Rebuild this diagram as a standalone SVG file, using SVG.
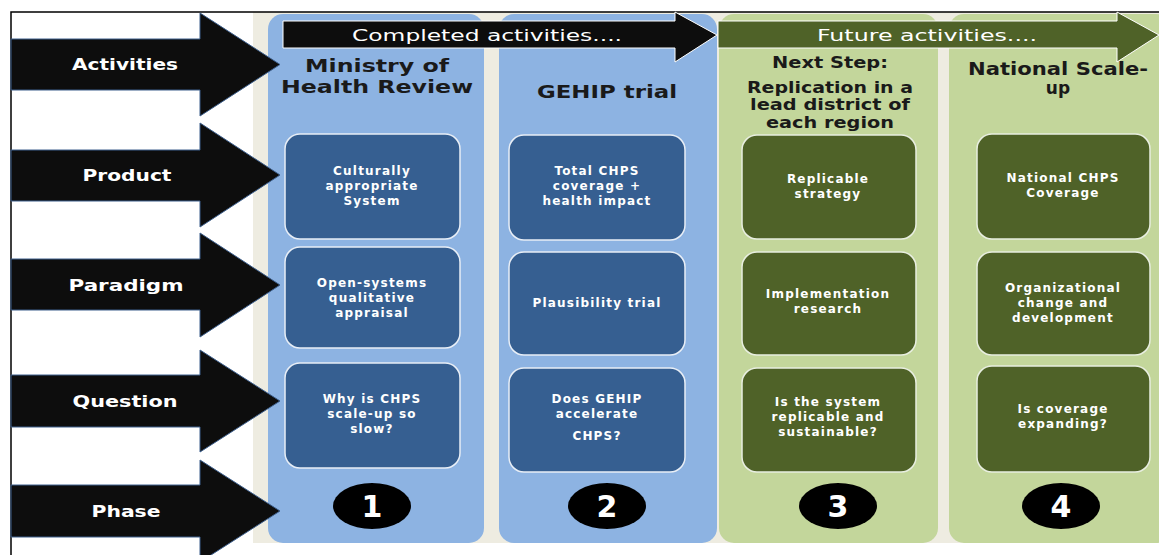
<svg xmlns="http://www.w3.org/2000/svg" width="1159" height="555" viewBox="0 0 1159 555">
<style>
.lbl{font-family:"DejaVu Sans",sans-serif;font-weight:bold;font-size:16px;fill:#fff;text-anchor:middle}
.hd{font-family:"DejaVu Sans",sans-serif;font-weight:bold;font-size:18px;fill:#1a1a1a;text-anchor:middle}
.hd2{font-family:"DejaVu Sans",sans-serif;font-weight:bold;font-size:15px;fill:#1a1a1a;text-anchor:middle}
.bt{font-family:"DejaVu Sans",sans-serif;font-weight:bold;font-size:12px;letter-spacing:1.2px;fill:#fff;text-anchor:middle}
.num{font-family:"DejaVu Sans",sans-serif;font-weight:bold;font-size:30px;fill:#fff;text-anchor:middle}
.top{font-family:"DejaVu Sans",sans-serif;font-size:16px;fill:#fff;text-anchor:middle}
.larr{fill:#0d0d0d;stroke:#3d5f8c;stroke-width:1}
.bb{fill:#365f91;stroke:#e8eef6;stroke-width:1.5}
.gb{fill:#4f6228;stroke:#e8eee0;stroke-width:1.5}
.colb{fill:#8db3e2}
.colg{fill:#c3d69b}
.circ{fill:#000}
</style>
<rect x="0" y="0" width="1159" height="555" fill="#fff"/>
<rect x="253" y="12" width="906" height="531" fill="#eeece1"/>
<path d="M11,555 V12 H1159" fill="none" stroke="#000" stroke-width="1.5"/>

<g id="columns">
<rect class="colb" x="268" y="14" width="216" height="529" rx="15"/>
<rect class="colb" x="499" y="14" width="218" height="529" rx="15"/>
<rect class="colg" x="719" y="14" width="219" height="529" rx="15"/>
<rect class="colg" x="949" y="14" width="222" height="529" rx="15"/>
</g>

<g id="top-arrows">
<g id="completed">
<path d="M283,21 H675 V12 L717,35 L675,62 V48 H283 Z" fill="#0d0d0d" stroke="#fff" stroke-width="1"/>
<text class="top" x="487" y="41" textLength="270" lengthAdjust="spacingAndGlyphs">Completed activities....</text>
</g>
<g id="future">
<path d="M718,21 H1117 V12 L1159,35 L1117,62 V48 H718 Z" fill="#4f6228" stroke="#fff" stroke-width="1"/>
<text class="top" x="927" y="41" textLength="220" lengthAdjust="spacingAndGlyphs">Future activities....</text>
</g>
</g>

<g id="row-arrows">
<g id="activities"><path class="larr" d="M11,39 H200 V13 L280,64.5 L200,116 V90 H11 Z"/><text class="lbl" x="125" y="70" textLength="106" lengthAdjust="spacingAndGlyphs">Activities</text></g>
<g id="product"><path class="larr" d="M11,150 H200 V123 L280,175 L200,227 V201 H11 Z"/><text class="lbl" x="127" y="181" textLength="89" lengthAdjust="spacingAndGlyphs">Product</text></g>
<g id="paradigm"><path class="larr" d="M11,259 H200 V233 L280,285 L200,337 V310 H11 Z"/><text class="lbl" x="126" y="291" textLength="115" lengthAdjust="spacingAndGlyphs">Paradigm</text></g>
<g id="question"><path class="larr" d="M11,375 H200 V350 L280,401 L200,452 V427 H11 Z"/><text class="lbl" x="125" y="407" textLength="105" lengthAdjust="spacingAndGlyphs">Question</text></g>
<g id="phase"><path class="larr" d="M11,485 H200 V460 L280,511 L200,562 V537 H11 Z"/><text class="lbl" x="126" y="517" textLength="69" lengthAdjust="spacingAndGlyphs">Phase</text></g>
</g>

<g id="headings">
<text class="hd" x="377" y="72" textLength="144" lengthAdjust="spacingAndGlyphs">Ministry of</text>
<text class="hd" x="377" y="93" textLength="192" lengthAdjust="spacingAndGlyphs">Health Review</text>
<text class="hd" x="607" y="98" textLength="140" lengthAdjust="spacingAndGlyphs">GEHIP  trial</text>
<text class="hd2" x="830" y="68" textLength="116" lengthAdjust="spacingAndGlyphs">Next Step:</text>
<text class="hd2" x="830" y="93" textLength="166" lengthAdjust="spacingAndGlyphs">Replication in a</text>
<text class="hd2" x="830" y="110" textLength="160" lengthAdjust="spacingAndGlyphs">lead district of</text>
<text class="hd2" x="830" y="128" textLength="128" lengthAdjust="spacingAndGlyphs">each region</text>
<text class="hd" x="1058" y="75" textLength="180" lengthAdjust="spacingAndGlyphs" style="font-size:17px">National Scale-</text>
<text class="hd" x="1058" y="94" style="font-size:17px">up</text>
</g>

<g id="col1-product"><rect class="bb" x="285" y="134" width="175" height="105" rx="15"/>
<text class="bt" x="372" y="175">Culturally</text><text class="bt" x="372" y="190">appropriate</text><text class="bt" x="372" y="205">System</text></g>
<g id="col1-paradigm"><rect class="bb" x="285" y="247" width="175" height="101" rx="15"/>
<text class="bt" x="372" y="287">Open-systems</text><text class="bt" x="372" y="302">qualitative</text><text class="bt" x="372" y="317">appraisal</text></g>
<g id="col1-question"><rect class="bb" x="285" y="363" width="175" height="105" rx="15"/>
<text class="bt" x="372" y="403">Why is CHPS</text><text class="bt" x="372" y="418">scale-up so</text><text class="bt" x="372" y="433">slow?</text></g>

<g id="col2-product"><rect class="bb" x="509" y="135" width="176" height="105" rx="15"/>
<text class="bt" x="597" y="175">Total  CHPS</text><text class="bt" x="597" y="190">coverage +</text><text class="bt" x="597" y="205">health  impact</text></g>
<g id="col2-paradigm"><rect class="bb" x="509" y="252" width="176" height="103" rx="15"/>
<text class="bt" x="597" y="307">Plausibility  trial</text></g>
<g id="col2-question"><rect class="bb" x="509" y="368" width="176" height="104" rx="15"/>
<text class="bt" x="597" y="403">Does GEHIP</text><text class="bt" x="597" y="418">accelerate</text><text class="bt" x="597" y="440">CHPS?</text></g>

<g id="col3-product"><rect class="gb" x="742" y="135" width="174" height="104" rx="15"/>
<text class="bt" x="828" y="183">Replicable</text><text class="bt" x="828" y="198">strategy</text></g>
<g id="col3-paradigm"><rect class="gb" x="742" y="252" width="174" height="103" rx="15"/>
<text class="bt" x="828" y="298">Implementation</text><text class="bt" x="828" y="313">research</text></g>
<g id="col3-question"><rect class="gb" x="742" y="368" width="174" height="104" rx="15"/>
<text class="bt" x="828" y="406">Is the system</text><text class="bt" x="828" y="421">replicable  and</text><text class="bt" x="828" y="436">sustainable?</text></g>

<g id="col4-product"><rect class="gb" x="977" y="134" width="173" height="105" rx="15"/>
<text class="bt" x="1063" y="182">National  CHPS</text><text class="bt" x="1063" y="197">Coverage</text></g>
<g id="col4-paradigm"><rect class="gb" x="977" y="252" width="173" height="103" rx="15"/>
<text class="bt" x="1063" y="292">Organizational</text><text class="bt" x="1063" y="307">change and</text><text class="bt" x="1063" y="322">development</text></g>
<g id="col4-question"><rect class="gb" x="977" y="366" width="173" height="106" rx="15"/>
<text class="bt" x="1063" y="413">Is coverage</text><text class="bt" x="1063" y="428">expanding?</text></g>

<g id="phase1"><ellipse class="circ" cx="372" cy="506" rx="39" ry="23"/><text class="num" x="372" y="517">1</text></g>
<g id="phase2"><ellipse class="circ" cx="607" cy="506" rx="39" ry="23"/><text class="num" x="607" y="517">2</text></g>
<g id="phase3"><ellipse class="circ" cx="838" cy="506" rx="39" ry="23"/><text class="num" x="838" y="517">3</text></g>
<g id="phase4"><ellipse class="circ" cx="1061" cy="506" rx="39" ry="23"/><text class="num" x="1061" y="517">4</text></g>
</svg>
